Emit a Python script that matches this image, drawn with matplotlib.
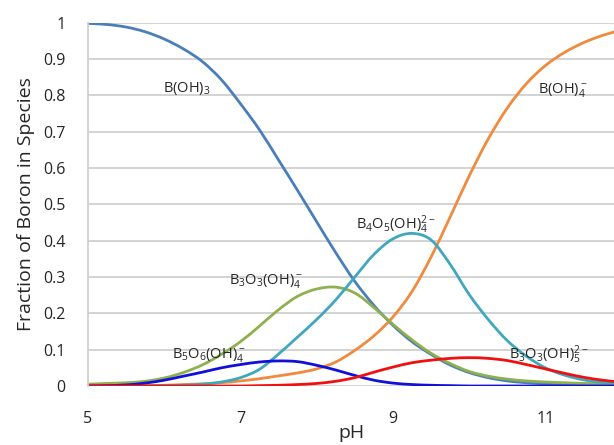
import numpy as np
import matplotlib
matplotlib.use("Agg")
import matplotlib.pyplot as plt
from matplotlib.path import Path
from matplotlib.patches import PathPatch

plt.rcParams['font.family'] = ['Open Sans', 'DejaVu Sans']
plt.rcParams['mathtext.default'] = 'regular'

# pH grid (0.25 steps) and fraction of boron in each species
ph = np.arange(5.0, 12.01, 0.25)

b_oh3 = [0.998, 0.995, 0.988, 0.975, 0.955, 0.928, 0.893, 0.843, 0.777, 0.705,
         0.622, 0.538, 0.452, 0.367, 0.288, 0.222, 0.167, 0.122, 0.087, 0.058,
         0.037, 0.023, 0.014, 0.009, 0.006, 0.004, 0.003, 0.002, 0.001]
b_oh4 = [0.000, 0.000, 0.001, 0.001, 0.002, 0.004, 0.006, 0.009, 0.014, 0.020,
         0.028, 0.036, 0.047, 0.066, 0.098, 0.138, 0.190, 0.260, 0.355, 0.465,
         0.578, 0.680, 0.765, 0.832, 0.882, 0.918, 0.945, 0.965, 0.980]
b3o3_oh4 = [0.005, 0.007, 0.009, 0.013, 0.022, 0.037, 0.058, 0.087, 0.122, 0.165,
            0.210, 0.247, 0.267, 0.272, 0.256, 0.216, 0.170, 0.127, 0.090, 0.062,
            0.040, 0.027, 0.019, 0.014, 0.011, 0.009, 0.007, 0.006, 0.005]
b4o5_oh4 = [0.000, 0.000, 0.000, 0.000, 0.001, 0.002, 0.005, 0.011, 0.023, 0.046,
            0.088, 0.135, 0.183, 0.237, 0.300, 0.362, 0.405, 0.420, 0.402, 0.335,
            0.252, 0.183, 0.125, 0.082, 0.050, 0.030, 0.017, 0.010, 0.007]
b5o6_oh4 = [0.000, 0.001, 0.003, 0.008, 0.016, 0.027, 0.038, 0.050, 0.059, 0.066,
            0.069, 0.067, 0.057, 0.044, 0.029, 0.016, 0.008, 0.004, 0.002, 0.001,
            0.000, 0.000, 0.000, 0.000, 0.000, 0.000, 0.000, 0.000, 0.000]
b3o3_oh5 = [0.000, 0.000, 0.000, 0.000, 0.000, 0.000, 0.000, 0.000, 0.000, 0.001,
            0.002, 0.004, 0.007, 0.013, 0.023, 0.038, 0.052, 0.064, 0.071, 0.076,
            0.078, 0.076, 0.070, 0.059, 0.047, 0.035, 0.024, 0.016, 0.010]


def smooth_line(ax, x, y, **kw):
    # Excel-style smoothed line: cubic Bezier pieces through every data point
    x = np.asarray(x, float)
    y = np.asarray(y, float)
    n = len(x)
    verts = [(x[0], y[0])]
    codes = [Path.MOVETO]
    for i in range(n - 1):
        a = max(i - 1, 0)
        d = min(i + 2, n - 1)
        c1 = (x[i] + (x[i + 1] - x[a]) / 6, y[i] + (y[i + 1] - y[a]) / 6)
        c2 = (x[i + 1] - (x[d] - x[i]) / 6, y[i + 1] - (y[d] - y[i]) / 6)
        verts += [c1, c2, (x[i + 1], y[i + 1])]
        codes += [Path.CURVE4] * 3
    ax.add_patch(PathPatch(Path(verts, codes), fill=False, capstyle='round', **kw))


fig = plt.figure(figsize=(6.14, 4.45), dpi=100)
ax = fig.add_axes([0.1433, 0.1326, 0.8567, 0.8164])

lw = 2.0
smooth_line(ax, ph, b_oh3, edgecolor='#4A7EBB', linewidth=lw)
smooth_line(ax, ph, b_oh4, edgecolor='#F08A3C', linewidth=lw)
smooth_line(ax, ph, b3o3_oh4, edgecolor='#8FB04E', linewidth=lw)
smooth_line(ax, ph, b4o5_oh4, edgecolor='#3FA7BE', linewidth=lw)
smooth_line(ax, ph, b5o6_oh4, edgecolor='#1010D8', linewidth=lw)
smooth_line(ax, ph, b3o3_oh5, edgecolor='#F01010', linewidth=lw)

# species labels
lab = dict(fontsize=10.5, color='#262626', va='center', ha='left')
ax.text(5.98, 0.82, 'B(OH)$_3$', **lab)
ax.text(10.9, 0.815, 'B(OH)$_4^-$', **lab)
ax.text(8.51, 0.445, 'B$_4$O$_5$(OH)$_4^{2-}$', **lab)
ax.text(6.85, 0.29, 'B$_3$O$_3$(OH)$_4^-$', **lab)
ax.text(6.10, 0.085, 'B$_5$O$_6$(OH)$_4^-$', **lab)
ax.text(10.52, 0.085, 'B$_3$O$_3$(OH)$_5^{2-}$', **lab)

ax.set_xlim(5, 11.9)
ax.set_ylim(0, 1)
ax.set_xticks([5, 7, 9, 11])
ax.set_yticks(np.arange(0, 1.01, 0.1))
ax.set_yticklabels(['0', '0.1', '0.2', '0.3', '0.4', '0.5', '0.6', '0.7', '0.8', '0.9', '1'])
ax.tick_params(axis='both', length=0, labelsize=11.5, colors='#262626')
ax.tick_params(axis='x', pad=18)
ax.tick_params(axis='y', pad=16)

ax.grid(axis='y', color='#D0D0D0', linewidth=1.3)
ax.set_axisbelow(True)
for s in ['top', 'right', 'bottom']:
    ax.spines[s].set_visible(False)
ax.spines['left'].set_color('#D0D0D0')
ax.spines['left'].set_linewidth(1.3)

ax.set_xlabel('pH', fontsize=14, color='#262626', labelpad=-2)
ax.set_ylabel('Fraction of Boron in Species', fontsize=14, color='#262626', labelpad=6)

fig.savefig('out.png', dpi=100)
